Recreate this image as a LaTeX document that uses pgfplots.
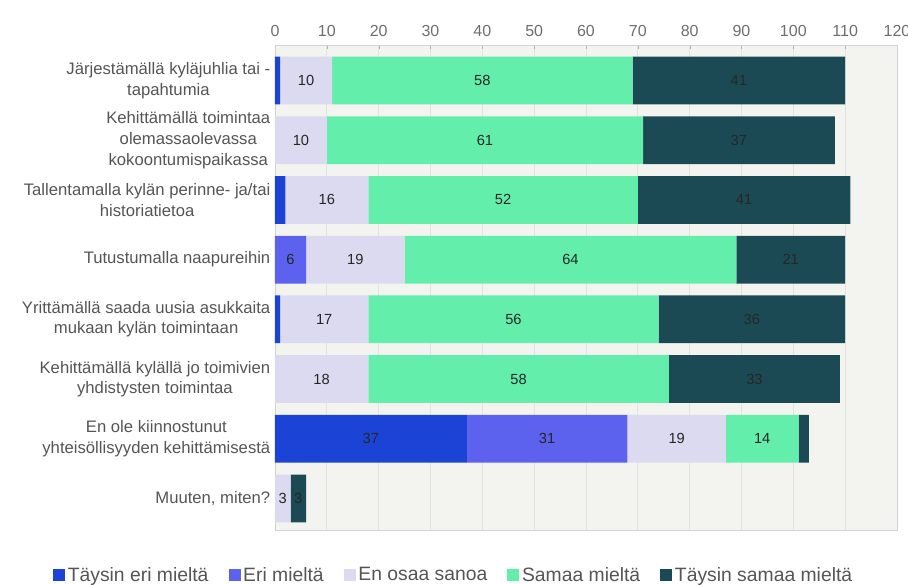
\documentclass[border=0pt]{standalone}
\usepackage{fontspec}
\setmainfont{Liberation Sans}
\usepackage{pgfplots}
\usepackage{pgfplotstable}
\pgfplotsset{compat=1.18}

\definecolor{tayeri}{HTML}{1B44D6}
\definecolor{eri}{HTML}{5C62EE}
\definecolor{eos}{HTML}{DCDAF0}
\definecolor{samaa}{HTML}{64EEAC}
\definecolor{taysamaa}{HTML}{1B4A55}
\definecolor{plotbg}{HTML}{F3F4EF}
\definecolor{gridc}{HTML}{E2E3DC}
\definecolor{txt}{HTML}{555555}

% rows from top to bottom
\pgfplotstableread{
idx tayeri eri eos samaa taysamaa
0 1 0 10 58 41
1 0 0 10 61 37
2 2 0 16 52 41
3 0 6 19 64 21
4 1 0 17 56 36
5 0 0 18 58 33
6 37 31 19 14 2
7 0 0 3 0 3
}\data

\pgfplotsset{
  seg/.style 2 args={fill=#1, draw=none,
    visualization depends on={\thisrow{#2}\as\rawx}},
}

\begin{document}
\begin{tikzpicture}
\begin{axis}[
    at={(0pt,0pt)}, anchor=south west,
    xbar stacked,
    scale only axis,
    width=466.5pt, height=363.75pt,
    xmin=0, xmax=120,
    ymin=-0.595, ymax=7.528,
    y dir=reverse,
    bar width=0.8,
    xtick={0,10,...,120},
    xticklabel pos=upper,
    xtick pos=upper,
    ytick={0,...,7},
    yticklabels={
      {Järjestämällä kyläjuhlia tai -\\tapahtumia},
      {Kehittämällä toimintaa\\olemassaolevassa\\kokoontumispaikassa},
      {Tallentamalla kylän perinne- ja/tai\\historiatietoa},
      {Tutustumalla naapureihin},
      {Yrittämällä saada uusia asukkaita\\mukaan kylän toimintaan},
      {Kehittämällä kylällä jo toimivien\\yhdistysten toimintaa},
      {En ole kiinnostunut\\yhteisöllisyyden kehittämisestä},
      {Muuten, miten?}},
    yticklabel style={align=center, text=txt,
      font=\fontsize{12.5}{15.5}\selectfont},
    xticklabel style={text=txt!85, yshift=3pt,
      font=\fontsize{12}{14}\selectfont},
    /pgf/number format/assume math mode=true,
    major y tick style={draw=none},
    major x tick style={gray!60},
    major tick length=3pt,
    axis line style={gray!35},
    axis background/.style={fill=plotbg},
    xmajorgrids,
    major grid style={gridc, line width=0.6pt},
    nodes near coords={\pgfmathtruncatemacro\showit{\rawx>2.5}%
      \ifnum\showit=1 \pgfmathprintnumber{\rawx}\fi},
    every node near coord/.append style={anchor=center,
      text=black!85, font=\fontsize{11}{13}\selectfont},
    legend columns=-1,
    legend style={at={(0.2878,-0.0928)}, anchor=center, draw=none,
      fill=none, text=txt, font=\fontsize{14.5}{17}\selectfont,
      /tikz/every even column/.append style={column sep=13pt}},
    legend image code/.code={\path[#1] (0pt,-4.5pt) rectangle (9pt,4.5pt);},
]
\addplot[seg={tayeri}{tayeri}] table[x=tayeri, y=idx] {\data};
\addlegendentry{Täysin eri mieltä}
\addplot[seg={eri}{eri}] table[x=eri, y=idx] {\data};
\addlegendentry{Eri mieltä}
\addplot[seg={eos}{eos}] table[x=eos, y=idx] {\data};
\addlegendentry{En osaa sanoa}
\addplot[seg={samaa}{samaa}] table[x=samaa, y=idx] {\data};
\addlegendentry{Samaa mieltä}
\addplot[seg={taysamaa}{taysamaa}] table[x=taysamaa, y=idx] {\data};
\addlegendentry{Täysin samaa mieltä}
\end{axis}
\pgfresetboundingbox
\useasboundingbox (-206.25pt,-41.25pt) rectangle (474.75pt,397.5pt);
\end{tikzpicture}
\end{document}
